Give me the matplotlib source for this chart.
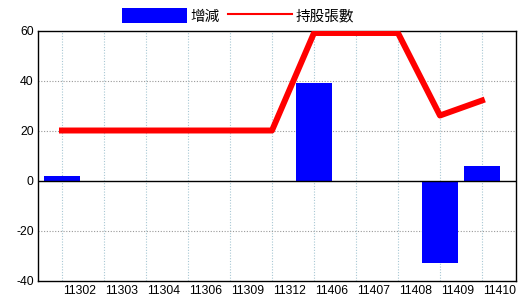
import matplotlib
matplotlib.use('Agg')
import matplotlib.pyplot as plt
import matplotlib.transforms as mtransforms
from matplotlib.patches import Patch
from matplotlib.lines import Line2D
import numpy as np

plt.rcParams['font.family'] = ['Liberation Sans', 'Noto Sans CJK TC', 'DejaVu Sans']

months = ['11302', '11303', '11304', '11306', '11309', '11312',
          '11406', '11407', '11408', '11409', '11410']
change = [2, 0, 0, 0, 0, 0, 39, 0, 0, -33, 6]
holdings = [20, 20, 20, 20, 20, 20, 59, 59, 59, 26, 32]
y_ticks = [-40, -20, 0, 20, 40, 60]

fig = plt.figure(figsize=(5.2, 3.0), dpi=100)
ax = fig.add_axes([38 / 520, 19.5 / 300, 478 / 520, 250 / 300])

x = np.arange(len(months))
ax.bar(x, change, width=0.857, color='#0000ff', zorder=2)
ax.plot(x, holdings, color='#ff0000', linewidth=4.3, zorder=3)
ax.axhline(0, color='black', linewidth=1.0, zorder=2.5)

ax.set_xlim(-0.571, 10.81)
ax.set_ylim(-40, 60)
ax.set_yticks(y_ticks)
ax.set_yticklabels([str(v) for v in y_ticks])
ax.set_xticks(x)
ax.set_xticklabels(months, ha='left')
ax.tick_params(axis='both', length=0, labelsize=8.8, colors='black', pad=3)

# dotted grids: light blue verticals, gray horizontals
for xi in x:
    ax.axvline(xi, color='#a8c8d4', linewidth=0.8, linestyle=(0, (1, 1.5)), zorder=1)
for yv in [-20, 20, 40]:
    ax.axhline(yv, color='#999999', linewidth=0.8, linestyle=(0, (1, 1.5)), zorder=1)

for sp in ax.spines.values():
    sp.set_color('black')
    sp.set_linewidth(1.0)

# month labels sit just right of their gridlines
offset = mtransforms.ScaledTranslation(1 / 100, 0, fig.dpi_scale_trans)
for lbl in ax.get_xticklabels():
    lbl.set_transform(lbl.get_transform() + offset)

legend_elements = [
    Patch(facecolor='#0000ff', edgecolor='none', label='增減'),
    Line2D([0], [0], color='#ff0000', linewidth=1.5, label='持股張數'),
]
fig.legend(handles=legend_elements, loc='center', bbox_to_anchor=(0.458, 0.947),
           ncol=2, frameon=False, handlelength=4.4, handleheight=1.15,
           handletextpad=0.25, columnspacing=0.55, borderaxespad=0, borderpad=0,
           prop={'family': ['Noto Sans CJK TC', 'DejaVu Sans'], 'size': 10.5})

fig.savefig('out.png', dpi=100)
